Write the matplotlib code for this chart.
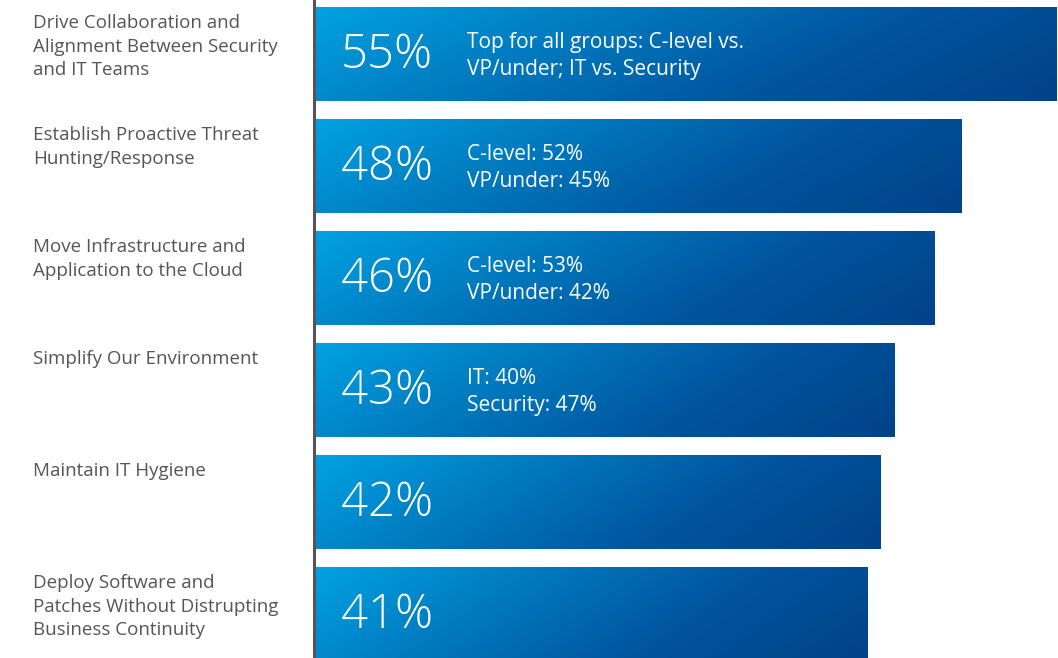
import numpy as np
import matplotlib.pyplot as plt
from matplotlib.colors import LinearSegmentedColormap
from matplotlib.patches import Rectangle

plt.rcParams['font.family'] = ['Open Sans', 'DejaVu Sans']

# priorities, share of respondents (%), and breakdown notes
priorities = [
    'Drive Collaboration and\nAlignment Between Security\nand IT Teams',
    'Establish Proactive Threat\nHunting/Response',
    'Move Infrastructure and\nApplication to the Cloud',
    'Simplify Our Environment',
    'Maintain IT Hygiene',
    'Deploy Software and\nPatches Without Distrupting\nBusiness Continuity',
]
shares = [55, 48, 46, 43, 42, 41]
notes = [
    'Top for all groups: C-level vs.\nVP/under; IT vs. Security',
    'C-level: 52%\nVP/under: 45%',
    'C-level: 53%\nVP/under: 42%',
    'IT: 40%\nSecurity: 47%',
    '',
    '',
]

BAR_H = 94 / 112
LABEL_GRAY = '#555555'
cmap = LinearSegmentedColormap.from_list(
    'bar_blue', ['#00a2e1', '#0079be', '#00549d', '#00428a'])

fig = plt.figure(figsize=(10.58, 6.58), dpi=100)
ax = fig.add_axes([314 / 1058, 0, 744 / 1058, 1])
ax.set_xlim(0, 744 / 13.5)
ax.set_ylim(604 / 112, -54 / 112)

# diagonal gradient: light at bottom-left, dark towards top-right
gx, gy = np.meshgrid(np.linspace(0, 1, 300), np.linspace(0, 1, 60))
grad = np.clip(0.8 * gx + 0.2 * (1 - gy), 0, 1)

for i, (val, note) in enumerate(zip(shares, notes)):
    top, bot = i - BAR_H / 2, i + BAR_H / 2
    rect = Rectangle((0, top), val, BAR_H, facecolor='none', edgecolor='none')
    ax.add_patch(rect)
    im = ax.imshow(grad, cmap=cmap, aspect='auto', extent=(0, val, top, bot),
                   origin='upper', interpolation='bilinear', vmin=0, vmax=1)
    im.set_clip_path(rect)

    ax.text(2.0, i + 0.02, f'{val}%', color='white', fontsize=34,
            fontweight='light', va='center', ha='left')
    if note:
        ax.text(11.3, i + 0.02, note, color='white', fontsize=15,
                va='center', ha='left', linespacing=1.38)

    fig.text(33 / 1058, 1 - (top * 112 + 54 + 7) / 658, priorities[i],
             color=LABEL_GRAY, fontsize=13.5, va='top', ha='left',
             linespacing=1.4)

ax.set_xticks([])
ax.set_yticks([])
for side in ('top', 'right', 'bottom'):
    ax.spines[side].set_visible(False)
ax.spines['left'].set_color('#555555')
ax.spines['left'].set_linewidth(2.2)

plt.savefig('out.png', dpi=100)
